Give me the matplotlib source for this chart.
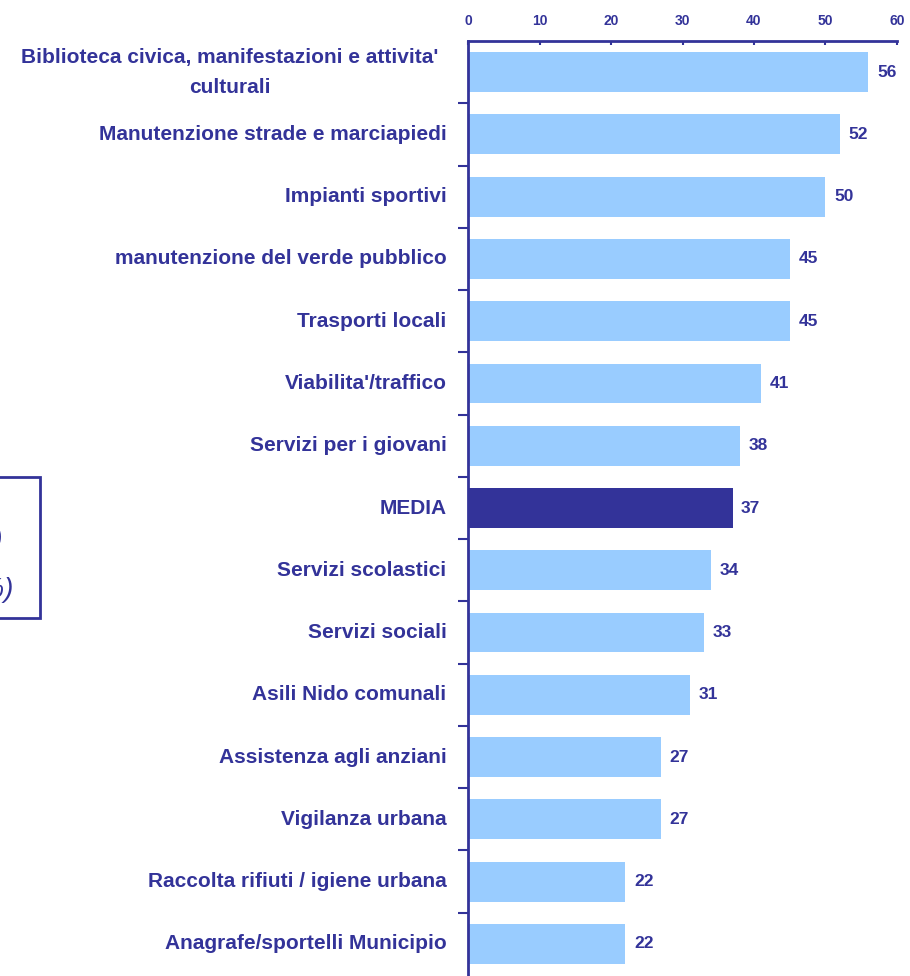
import matplotlib.pyplot as plt
from matplotlib.patches import Rectangle

plt.rcParams['font.family'] = ['Liberation Sans', 'DejaVu Sans']

BLU = '#333399'
AZZURRO = '#99CCFF'

servizi = [
    "Biblioteca civica, manifestazioni e attivita'\nculturali",
    "Manutenzione strade e marciapiedi",
    "Impianti sportivi",
    "manutenzione del verde pubblico",
    "Trasporti locali",
    "Viabilita'/traffico",
    "Servizi per i giovani",
    "MEDIA",
    "Servizi scolastici",
    "Servizi sociali",
    "Asili Nido comunali",
    "Assistenza agli anziani",
    "Vigilanza urbana",
    "Raccolta rifiuti / igiene urbana",
    "Anagrafe/sportelli Municipio",
]
valori = [56, 52, 50, 45, 45, 41, 38, 37, 34, 33, 31, 27, 27, 22, 22]

fig = plt.figure(figsize=(9.1, 9.76), dpi=100)
ax = fig.add_axes([0.5143, 0.001, 0.4714, 0.957])

pos = list(range(len(servizi)))
colori = [BLU if s == 'MEDIA' else AZZURRO for s in servizi]
ax.barh(pos, valori, height=0.64, color=colori, edgecolor='none')

for y, v in zip(pos, valori):
    ax.text(v + 1.2, y, str(v), va='center', ha='left', fontsize=12.5,
            fontweight='bold', color=BLU)

ax.set_xlim(0, 60)
ax.set_ylim(len(servizi) - 0.5, -0.5)
ax.xaxis.tick_top()
ax.set_xticks(range(0, 61, 10))
ax.tick_params(axis='x', direction='in', length=3, width=1.5, colors=BLU,
               labelsize=10, pad=9)
for t in ax.get_xticklabels():
    t.set_fontweight('bold')

# etichette delle categorie a mano, tacche sui confini delle categorie
ax.set_yticks([p + 0.5 for p in pos[:-1]])
ax.set_yticklabels([])
ax.tick_params(axis='y', direction='out', length=7, width=1.5, colors=BLU)
for y, s in zip(pos, servizi):
    if '\n' in s:
        # etichetta su due righe, centrata
        ax.text(-33.3, y, s, ha='center', va='center', fontsize=15,
                fontweight='bold', color=BLU, multialignment='center',
                linespacing=1.75)
    else:
        ax.text(-3.0, y, s, ha='right', va='center', fontsize=15,
                fontweight='bold', color=BLU)

for lato in ['right', 'bottom']:
    ax.spines[lato].set_visible(False)
for lato in ['left', 'top']:
    ax.spines[lato].set_color(BLU)
    ax.spines[lato].set_linewidth(2)

# riquadro di nota a sinistra, tagliato dal bordo
fig.patches.append(Rectangle((-60 / 910, 1 - 618 / 976), 100 / 910, 141 / 976,
                             transform=fig.transFigure, fill=False,
                             edgecolor=BLU, linewidth=2))
fig.text(3 / 910, 1 - 540 / 976, '(valori)', ha='right', va='center',
         fontsize=20, style='italic', color=BLU)
fig.text(13 / 910, 1 - 590 / 976, '(in %)', ha='right', va='center',
         fontsize=20, style='italic', color=BLU)

fig.savefig('out.png', dpi=100)
